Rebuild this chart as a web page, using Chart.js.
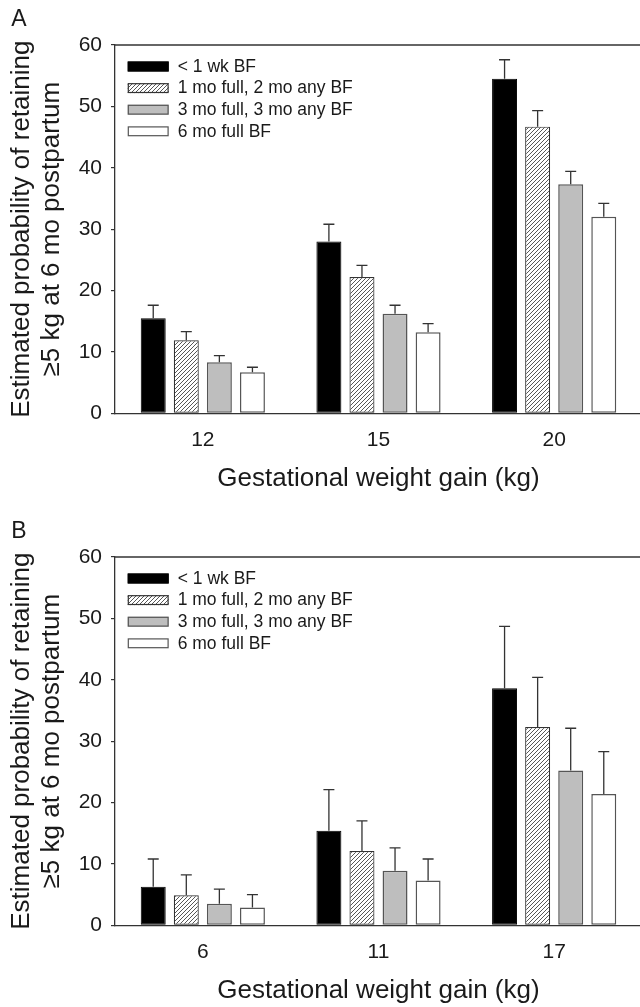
<!DOCTYPE html>
<html><head><meta charset="utf-8">
<script src="https://cdn.jsdelivr.net/npm/chart.js@4.4.1/dist/chart.umd.min.js"></script>
<style>
html,body{margin:0;padding:0;background:#fff;overflow:hidden;width:640px;height:1007px;position:relative;}
.wrap{position:absolute;left:0;width:650px;height:512px;}
</style></head><body>
<div class="wrap" style="top:0"><canvas id="cA"></canvas></div>
<div class="wrap" style="top:512px"><canvas id="cB"></canvas></div>
<script>
// ---- data ----
const seriesLabels = ['< 1 wk BF', '1 mo full, 2 mo any BF', '3 mo full, 3 mo any BF', '6 mo full BF'];

const gainA = ['12', '15', '20'];
const lt1wkA   = [15.5, 28.0, 54.5];
const oneMoA   = [11.9, 22.2, 46.7];
const threeMoA = [8.3, 16.2, 37.3];
const sixMoA   = [6.7, 13.2, 32.0];
const lt1wkUpperA   = [17.6, 30.8, 57.6];
const oneMoUpperA   = [13.3, 24.1, 49.3];
const threeMoUpperA = [9.4, 17.6, 39.4];
const sixMoUpperA   = [7.5, 14.6, 34.2];

const gainB = ['6', '11', '17'];
const lt1wkB   = [6.3, 15.4, 38.6];
const oneMoB   = [4.9, 12.1, 32.3];
const threeMoB = [3.5, 8.9, 25.2];
const sixMoB   = [2.9, 7.3, 21.4];
const lt1wkUpperB   = [10.8, 22.1, 48.7];
const oneMoUpperB   = [8.2, 17.0, 40.4];
const threeMoUpperB = [5.9, 12.6, 32.1];
const sixMoUpperB   = [5.0, 10.8, 28.3];

const yTicksMin = 0, yTicksMax = 60, yTickStep = 10;
const yTitle = ['Estimated probability of retaining', '\u22655 kg at 6 mo postpartum'];
const xTitle = 'Gestational weight gain (kg)';

// ---- styles ----
const FONT = "'Liberation Sans', Arial, Helvetica, sans-serif";
Chart.defaults.font.family = FONT;
Chart.defaults.color = '#1a1a1a';
const AXIS = '#333';

function makeHatch() {
  const c = document.createElement('canvas');
  c.width = 4; c.height = 4;
  const g = c.getContext('2d');
  g.fillStyle = '#fff'; g.fillRect(0, 0, 4, 4);
  g.strokeStyle = '#444'; g.lineWidth = 0.9;
  g.beginPath();
  g.moveTo(0, 4); g.lineTo(4, 0);
  g.moveTo(-1, 1); g.lineTo(1, -1);
  g.moveTo(3, 5); g.lineTo(5, 3);
  g.stroke();
  return g.createPattern(c, 'repeat');
}
const hatch = makeHatch();
const fills   = ['#000000', hatch, '#bebebe', '#ffffff'];
const borders = ['#000000', '#333333', '#555555', '#555555'];
const bws     = [1, 1.2, 1.5, 1.5];

const errorBarPlugin = {
  id: 'errorBars',
  afterDatasetsDraw(chart, args, opts) {
    const ctx = chart.ctx, ys = chart.scales.y;
    ctx.save();
    ctx.strokeStyle = '#333'; ctx.lineWidth = 1.3;
    opts.uppers.forEach((arr, i) => {
      const meta = chart.getDatasetMeta(i);
      meta.data.forEach((bar, j) => {
        const yt = ys.getPixelForValue(arr[j]);
        ctx.beginPath();
        ctx.moveTo(bar.x, bar.y); ctx.lineTo(bar.x, yt);
        ctx.moveTo(bar.x - 5.5, yt); ctx.lineTo(bar.x + 5.5, yt);
        ctx.stroke();
      });
    });
    ctx.restore();
  }
};

const framePlugin = {
  id: 'frameDeco',
  afterDraw(chart, args, opts) {
    const ctx = chart.ctx, a = chart.chartArea;
    ctx.save();
    // top frame line
    ctx.strokeStyle = AXIS; ctx.lineWidth = 1.3;
    ctx.beginPath(); ctx.moveTo(a.left, a.top); ctx.lineTo(a.right, a.top); ctx.stroke();
    // panel letter
    ctx.fillStyle = '#1a1a1a';
    ctx.font = '23px ' + FONT;
    ctx.textAlign = 'center'; ctx.textBaseline = 'middle';
    ctx.fillText(opts.letter, 19, a.top - 25);
    // legend
    ctx.font = '17.5px ' + FONT;
    ctx.textAlign = 'left';
    chart.data.datasets.forEach((ds, i) => {
      const cy = a.top + 21.5 + i * 21.6;
      const bx = a.left + 12.7, bw = 41, bh = 10;
      ctx.fillStyle = ds.backgroundColor;
      ctx.fillRect(bx, cy - bh / 2, bw, bh);
      ctx.strokeStyle = ds.borderColor; ctx.lineWidth = 1.2;
      ctx.strokeRect(bx + 0.6, cy - bh / 2 + 0.6, bw - 1.2, bh - 1.2);
      ctx.fillStyle = '#1a1a1a';
      ctx.fillText(ds.label, a.left + 62.7, cy + 0.5);
    });
    ctx.restore();
  }
};

function build(id, cats, series, uppers, letter) {
  new Chart(document.getElementById(id), {
    type: 'bar',
    data: {
      labels: cats,
      datasets: series.map((d, i) => ({
        label: seriesLabels[i], data: d,
        backgroundColor: fills[i], borderColor: borders[i], borderWidth: bws[i],
        borderSkipped: false,
        categoryPercentage: 0.753, barPercentage: 0.755
      }))
    },
    options: {
      responsive: true, maintainAspectRatio: false, animation: false,
      devicePixelRatio: 1,
      layout: { padding: { top: 45, left: 0, right: 8, bottom: 0 } },
      plugins: {
        legend: { display: false }, tooltip: { enabled: false },
        errorBars: { uppers }, frameDeco: { letter }
      },
      scales: {
        x: {
          type: 'category',
          ticks: { font: { size: 21 }, padding: 14, color: '#1a1a1a' },
          grid: { display: false, drawTicks: false },
          border: { display: true, color: AXIS, width: 1.3 },
          title: { display: true, text: xTitle, color: '#1a1a1a',
                   font: { size: 26, lineHeight: 1.15 }, padding: { top: 0, bottom: 18 } },
          afterFit(s) { s.height = 98.7; }
        },
        y: {
          min: yTicksMin, max: yTicksMax,
          ticks: { stepSize: yTickStep, font: { size: 21 }, padding: 9, color: '#1a1a1a' },
          grid: { display: true, drawOnChartArea: false, drawTicks: true, tickLength: 4, color: AXIS, lineWidth: 1.2 },
          border: { display: true, color: AXIS, width: 1.3 },
          title: { display: true, text: yTitle, color: '#1a1a1a',
                   font: { size: 26, lineHeight: 1.15 }, padding: { top: 6.7, bottom: 0 } },
          afterFit(s) { s.width = 115; }
        }
      }
    },
    plugins: [errorBarPlugin, framePlugin]
  });
}

build('cA', gainA, [lt1wkA, oneMoA, threeMoA, sixMoA],
      [lt1wkUpperA, oneMoUpperA, threeMoUpperA, sixMoUpperA], 'A');
build('cB', gainB, [lt1wkB, oneMoB, threeMoB, sixMoB],
      [lt1wkUpperB, oneMoUpperB, threeMoUpperB, sixMoUpperB], 'B');
</script>
</body></html>
